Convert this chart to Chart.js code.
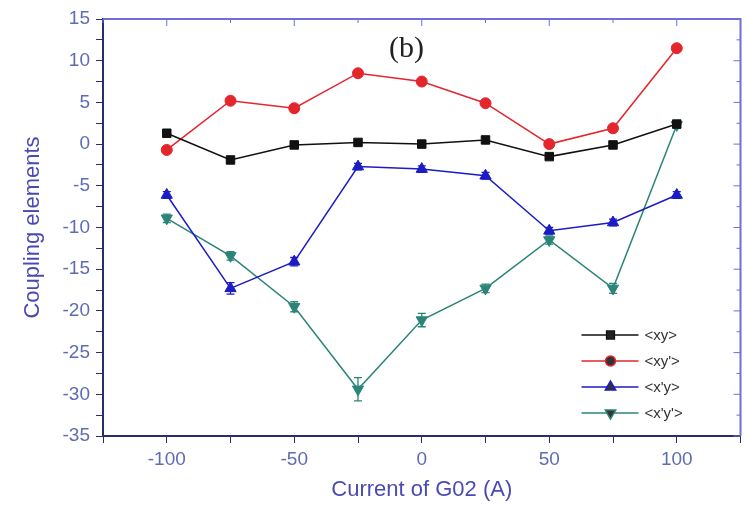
<!DOCTYPE html>
<html>
<head>
<meta charset="utf-8">
<script src="https://cdn.jsdelivr.net/npm/chart.js@4.4.1/dist/chart.umd.min.js"></script>
<style>
  html, body { margin: 0; padding: 0; background: #fff; }
  #wrap { width: 748px; height: 507px; position: relative; }
</style>
</head>
<body>
<div id="wrap"><canvas id="chart"></canvas></div>
<script>
// currents of G02 (A)
const currents = [-100, -75, -50, -25, 0, 25, 50, 75, 100];
const labels = ['<xy>', "<xy'>", "<x'y>", "<x'y'>"];

const xyVals   = [1.3, -1.9, -0.1, 0.2, 0.0, 0.5, -1.5, -0.1, 2.4];
const xypVals  = [-0.7, 5.2, 4.3, 8.5, 7.5, 4.9, 0.0, 1.9, 11.5];
const xpyVals  = [-6.1, -17.3, -14.1, -2.7, -3.0, -3.8, -10.4, -9.4, -6.1];
const xpypVals = [-8.9, -13.4, -19.5, -29.4, -21.1, -17.3, -11.5, -17.3, 2.3];

const xyErr   = [0.3, 0.3, 0.3, 0.3, 0.3, 0.3, 0.3, 0.3, 0.3];
const xypErr  = [0.3, 0.3, 0.3, 0.3, 0.3, 0.3, 0.3, 0.3, 0.3];
const xpyErr  = [0.4, 0.7, 0.5, 0.4, 0.4, 0.4, 0.4, 0.4, 0.4];
const xpypErr = [0.5, 0.5, 0.6, 1.4, 0.8, 0.5, 0.5, 0.6, 0.4];

const xTicks = [-125, -100, -75, -50, -25, 0, 25, 50, 75, 100, 125];
const yTicks = [-35, -32.5, -30, -27.5, -25, -22.5, -20, -17.5, -15, -12.5, -10, -7.5, -5, -2.5, 0, 2.5, 5, 7.5, 10, 12.5, 15];

const colors = ['#111111', '#e3262c', '#1c1cc4', '#2a8478'];
const styles = ['rect', 'circle', 'triangle', 'triangle'];
const rotations = [0, 0, 0, 180];
const radii = [6, 5.5, 6.5, 6.5];
const values = [xyVals, xypVals, xpyVals, xpypVals];
const errors = [xyErr, xypErr, xpyErr, xpypErr];

const axisDark = '#2b2b70';
const axisLight = '#6f6fd8';
const tickTxt = '#5f6cb3';
const titleTxt = '#4a4ab4';
const sans = '"Liberation Sans", Arial, sans-serif';

function mkData(vals) { return currents.map((c, i) => ({ x: c, y: vals[i] })); }

const errorBars = {
    id: 'errorBars',
    beforeDatasetsDraw(chart) {
        const c = chart.ctx, ys = chart.scales.y;
        chart.data.datasets.forEach((ds, di) => {
            const meta = chart.getDatasetMeta(di);
            c.save(); c.strokeStyle = ds.borderColor; c.lineWidth = 1.3;
            meta.data.forEach((pt, i) => {
                const e = errors[di][i], v = values[di][i];
                const y1 = ys.getPixelForValue(v - e), y2 = ys.getPixelForValue(v + e);
                c.beginPath();
                c.moveTo(pt.x, y1); c.lineTo(pt.x, y2);
                c.moveTo(pt.x - 4, y1); c.lineTo(pt.x + 4, y1);
                c.moveTo(pt.x - 4, y2); c.lineTo(pt.x + 4, y2);
                c.stroke();
            });
            c.restore();
        });
    }
};

const frame = {
    id: 'frame',
    afterDraw(chart) {
        const c = chart.ctx, a = chart.chartArea, xs = chart.scales.x, ys = chart.scales.y;
        c.save();
        c.strokeStyle = axisLight; c.lineWidth = 2;
        c.beginPath(); c.moveTo(a.left, a.top); c.lineTo(a.right, a.top); c.lineTo(a.right, a.bottom); c.stroke();
        c.lineWidth = 1;
        xTicks.forEach(v => {
            const px = xs.getPixelForValue(v), len = v % 50 === 0 ? 7 : 4;
            c.beginPath(); c.moveTo(px, a.top); c.lineTo(px, a.top + len); c.stroke();
        });
        yTicks.forEach(v => {
            const py = ys.getPixelForValue(v), len = v % 5 === 0 ? 7 : 4;
            c.beginPath(); c.moveTo(a.right, py); c.lineTo(a.right - len, py); c.stroke();
        });
        // (b) panel label
        c.fillStyle = '#222'; c.font = '30px "Liberation Serif", "Times New Roman", serif';
        c.textAlign = 'center'; c.textBaseline = 'middle';
        c.fillText('(b)', xs.getPixelForValue(-6), a.top + 30);
        // legend
        const lx = a.right - 159, ly = a.bottom - 101;
        c.font = '15px ' + sans;
        c.textAlign = 'left';
        chart.data.datasets.forEach((ds, i) => {
            const y = ly + i * 26;
            c.strokeStyle = ds.borderColor; c.lineWidth = 1.5;
            c.beginPath(); c.moveTo(lx, y); c.lineTo(lx + 57, y); c.stroke();
            Chart.helpers.drawPoint(c, { pointStyle: ds.pointStyle, rotation: ds.pointRotation, radius: ds.pointRadius - 0.5, borderWidth: 1 }, lx + 29, y);
            c.fillStyle = '#333';
            c.fillText(ds.label, lx + 63, y + 1);
        });
        c.restore();
    }
};

new Chart(document.getElementById('chart'), {
    type: 'line',
    data: {
        datasets: labels.map((l, i) => ({
            label: l,
            data: mkData(values[i]),
            borderColor: colors[i],
            backgroundColor: colors[i],
            borderWidth: 1.5,
            pointStyle: styles[i],
            pointRotation: rotations[i],
            pointRadius: radii[i],
            pointBorderWidth: 1,
            tension: 0
        }))
    },
    options: {
        responsive: true,
        maintainAspectRatio: false,
        animation: false,
        layout: { padding: { top: 19, right: 6, left: 0, bottom: 0 } },
        plugins: { legend: { display: false }, tooltip: { enabled: false } },
        scales: {
            x: {
                type: 'linear', min: -125, max: 125,
                afterBuildTicks: s => { s.ticks = xTicks.map(v => ({ value: v })); },
                afterFit: s => { s.height = 71; },
                ticks: {
                    color: tickTxt, padding: 5, maxRotation: 0, autoSkip: false,
                    font: { family: sans, size: 19 },
                    callback: v => (v % 50 === 0 && Math.abs(v) <= 100) ? v : ''
                },
                grid: { drawOnChartArea: false, tickLength: 7, color: axisDark, tickColor: axisDark },
                border: { color: axisDark, width: 2 },
                title: {
                    display: true, text: 'Current of G02 (A)', color: titleTxt, padding: { top: 2 },
                    font: { family: sans, size: 22 }
                }
            },
            y: {
                min: -35, max: 15,
                afterBuildTicks: s => { s.ticks = yTicks.map(v => ({ value: v })); },
                afterFit: s => { s.width = 103; },
                ticks: {
                    color: tickTxt, padding: 6, autoSkip: false,
                    font: { family: sans, size: 19 },
                    callback: v => v % 5 === 0 ? v : ''
                },
                grid: { drawOnChartArea: false, tickLength: 7, color: axisDark, tickColor: axisDark },
                border: { color: axisDark, width: 2 },
                title: {
                    display: true, text: 'Coupling elements', color: titleTxt, padding: { top: 20, bottom: 0 },
                    font: { family: sans, size: 22 }
                }
            }
        }
    },
    plugins: [errorBars, frame]
});
</script>
</body>
</html>
